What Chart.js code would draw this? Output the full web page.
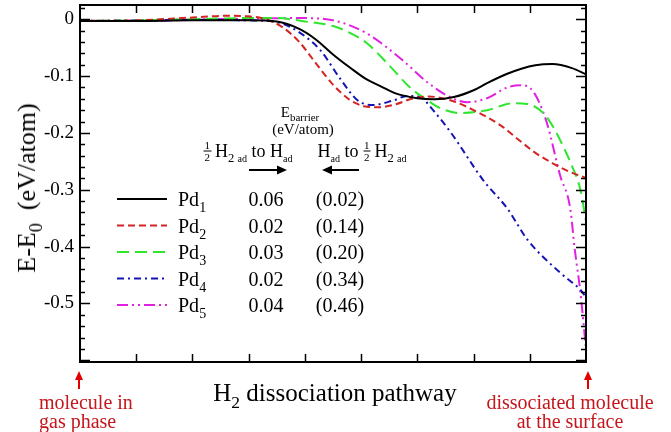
<!DOCTYPE html>
<html><head><meta charset="utf-8">
<script src="https://cdn.jsdelivr.net/npm/chart.js@4.4.0/dist/chart.umd.min.js"></script>
<style>
body{margin:0;background:#fff}
#wrap{position:relative;width:671px;height:432px;font-family:"Liberation Serif","Times New Roman",serif;color:#000;overflow:hidden}
canvas{position:absolute;left:0;top:0}
.t{position:absolute;white-space:nowrap;transform:translate(-50%,-50%);line-height:1}
.l{position:absolute;white-space:nowrap;transform:translate(0,-50%);line-height:1}
sub{font-size:0.7em;vertical-align:-0.4em;line-height:0}
sub small{font-size:0.8em}
.frac{display:inline-block;vertical-align:-0.35em;text-align:center;font-size:11px;line-height:11px;margin-right:4px}
.frac span{display:block;padding:0 1px}
.frac .d{border-top:1px solid #000}
.red{color:#c4161c;font-size:20px}
</style>
</head><body>
<div id="wrap">
<canvas id="c" width="671" height="432"></canvas>
<div class="t" style="left:27px;top:188px;font-size:26px;transform:translate(-50%,-50%) rotate(-90deg)">E-E<sub>0</sub>&nbsp; (eV/atom)</div>
<div class="t" style="left:335px;top:392px;font-size:25px">H<sub>2</sub> dissociation pathway</div>
<div class="l red" style="left:39px;top:402px">molecule in</div>
<div class="l red" style="left:39px;top:421px">gas phase</div>
<div class="t red" style="left:570px;top:402px">dissociated molecule</div>
<div class="t red" style="left:570px;top:421px">at the surface</div>
<div class="t" style="left:300px;top:112px;font-size:15px">E<sub style="font-size:11px">barrier</sub></div>
<div class="t" style="left:303px;top:129px;font-size:15px">(eV/atom)</div>
<div class="t" style="left:248px;top:151px;font-size:18px"><span class="frac"><span>1</span><span class="d">2</span></span>H<sub>2 <small>ad</small></sub> to H<sub><small>ad</small></sub></div>
<div class="t" style="left:362px;top:151px;font-size:18px">H<sub><small>ad</small></sub> to <span class="frac"><span>1</span><span class="d">2</span></span>H<sub>2 <small>ad</small></sub></div>
<div id="table"></div>
<svg width="671" height="432" style="position:absolute;left:0;top:0">
  <line x1="249" y1="170" x2="280" y2="170" stroke="#000" stroke-width="2"/>
  <polygon points="287,170 277,165.5 277,174.5" fill="#000"/>
  <line x1="359" y1="170" x2="329" y2="170" stroke="#000" stroke-width="2"/>
  <polygon points="322,170 332,165.5 332,174.5" fill="#000"/>
  <line x1="79" y1="389" x2="79" y2="378" stroke="#e00000" stroke-width="2"/>
  <polygon points="79,371 75,380 83,380" fill="#e00000"/>
  <line x1="588" y1="389" x2="588" y2="378" stroke="#e00000" stroke-width="2"/>
  <polygon points="588,371 584,380 592,380" fill="#e00000"/>
</svg>
</div>
<script>
// ---- data ----
const seriesNames = ['Pd1','Pd2','Pd3','Pd4','Pd5'];
const barrierForward = ['0.06','0.02','0.03','0.02','0.04'];
const barrierReverse = ['(0.02)','(0.14)','(0.20)','(0.34)','(0.46)'];
const yTickValues = [0, -0.1, -0.2, -0.3, -0.4, -0.5];

const pd1X = [0, 1, 2, 3, 3.5, 3.9, 4.2, 4.5, 4.8, 5.1, 5.35, 5.6, 6.0, 6.3, 6.65, 7.0, 7.25, 7.6, 7.85, 8.1, 8.4, 8.75, 9.0];
const pd1Y = [-0.003, -0.003, -0.002, -0.002, -0.004, -0.017, -0.036, -0.062, -0.085, -0.106, -0.118, -0.130, -0.139, -0.141, -0.137, -0.125, -0.112, -0.096, -0.087, -0.081, -0.079, -0.086, -0.097];

const pd2X = [0, 1, 2, 2.6, 3.0, 3.3, 3.6, 3.9, 4.2, 4.5, 4.8, 5.05, 5.3, 5.6, 5.9, 6.2, 6.6, 7.0, 7.5, 7.8, 8.1, 8.4, 8.7, 9.0];
const pd2Y = [-0.003, -0.002, 0.003, 0.006, 0.005, 0.000, -0.014, -0.040, -0.078, -0.115, -0.142, -0.153, -0.155, -0.150, -0.140, -0.136, -0.143, -0.160, -0.188, -0.212, -0.235, -0.253, -0.268, -0.279];

const pd3X = [0, 1, 2, 3, 3.5, 4.0, 4.5, 4.8, 5.1, 5.46, 5.87, 6.17, 6.4, 6.76, 7.24, 7.7, 7.95, 8.24, 8.42, 8.6, 8.75, 8.9, 9.0];
const pd3Y = [-0.003, -0.002, 0.000, 0.002, 0.002, -0.004, -0.012, -0.024, -0.042, -0.077, -0.120, -0.142, -0.156, -0.165, -0.160, -0.148, -0.149, -0.165, -0.190, -0.225, -0.258, -0.300, -0.355];

const pd4X = [0, 1, 2, 3, 3.5, 3.9, 4.27, 4.63, 4.93, 5.2, 5.57, 5.82, 6.05, 6.28, 6.6, 7.17, 7.6, 7.96, 8.54, 8.9, 9.0];
const pd4Y = [-0.003, -0.002, -0.001, -0.002, -0.005, -0.023, -0.054, -0.105, -0.142, -0.151, -0.143, -0.135, -0.137, -0.160, -0.200, -0.283, -0.333, -0.388, -0.446, -0.476, -0.489];

const pd5X = [0, 1, 2, 3, 3.9, 4.5, 5.1, 5.7, 6.18, 6.58, 6.88, 7.24, 7.6, 7.83, 8.06, 8.3, 8.54, 8.72, 8.8, 8.9, 9.0];
const pd5Y = [-0.003, -0.003, -0.001, 0.001, 0.002, -0.002, -0.025, -0.069, -0.111, -0.137, -0.146, -0.139, -0.120, -0.116, -0.127, -0.181, -0.275, -0.333, -0.405, -0.480, -0.580];

// ---- styles ----
const colors = ['#000000', '#d42424', '#2ee62e', '#1414b4', '#e022e0'];
const dashes = [[], [7, 4], [12, 6], [7, 4, 2, 4], [11, 4, 2, 4, 2, 4]];
const legendRowY = [199, 225.5, 252, 278.5, 305];

const xs = [pd1X, pd2X, pd3X, pd4X, pd5X];
const ys = [pd1Y, pd2Y, pd3Y, pd4Y, pd5Y];
const pts = (X, Y) => X.map((x, i) => ({x, y: Y[i]}));

// table text
const tbl = document.getElementById('table');
seriesNames.forEach((n, i) => {
  const yy = legendRowY[i];
  tbl.insertAdjacentHTML('beforeend',
    `<div class="l" style="left:178px;top:${yy}px;font-size:20px">${n.slice(0,2)}<sub>${n.slice(2)}</sub></div>` +
    `<div class="t" style="left:266px;top:${yy}px;font-size:20px">${barrierForward[i]}</div>` +
    `<div class="t" style="left:340px;top:${yy}px;font-size:20px">${barrierReverse[i]}</div>`);
});

const framePlugin = {
  id: 'frame',
  afterDatasetsDraw(chart) {
    const {ctx, chartArea: a, scales: {x, y}} = chart;
    ctx.save();
    ctx.setLineDash([]);
    ctx.strokeStyle = '#000';
    const ln = (x1, y1, x2, y2) => { ctx.beginPath(); ctx.moveTo(x1, y1); ctx.lineTo(x2, y2); ctx.stroke(); };
    ctx.lineWidth = 1.5;
    for (let k = -60; k <= 2; k += 2) {
      const py = Math.round(y.getPixelForValue(k / 100)) + 0.5;
      const len = (k % 10 === 0) ? 10 : 5;
      ln(a.left, py, a.left + len, py);
      ln(a.right, py, a.right - len, py);
    }
    for (let i = 1; i < 9; i++) {
      const px = Math.round(x.getPixelForValue(i)) + 0.5;
      ln(px, a.top, px, a.top + 8);
      ln(px, a.bottom, px, a.bottom - 8);
    }
    ctx.lineWidth = 2;
    ctx.strokeRect(a.left, a.top, a.right - a.left, a.bottom - a.top);
    // legend samples
    chart.data.datasets.forEach((ds, i) => {
      ctx.strokeStyle = ds.borderColor;
      ctx.lineWidth = 2;
      ctx.setLineDash(ds.borderDash || []);
      ln(117, legendRowY[i], 167, legendRowY[i]);
    });
    ctx.restore();
  }
};

new Chart(document.getElementById('c'), {
  type: 'line',
  data: {
    datasets: seriesNames.map((n, i) => ({
      label: n,
      data: pts(xs[i], ys[i]),
      borderColor: colors[i],
      borderDash: dashes[i],
      borderWidth: 2,
      pointRadius: 0,
      cubicInterpolationMode: 'monotone',
      fill: false
    }))
  },
  options: {
    responsive: false,
    animation: false,
    devicePixelRatio: 1,
    layout: {padding: {left: 0, top: 5, right: 85, bottom: 70}},
    plugins: {legend: {display: false}, tooltip: {enabled: false}},
    scales: {
      x: {type: 'linear', min: 0, max: 9, display: false},
      y: {
        type: 'linear', min: -0.603, max: 0.025,
        grid: {display: false, drawTicks: false},
        border: {display: false},
        afterBuildTicks: s => { s.ticks = yTickValues.map(v => ({value: v})); },
        afterFit: s => { s.width = 80; s.paddingTop = 0; s.paddingBottom = 0; },
        ticks: {
          padding: 6, color: '#000',
          font: {family: '"Liberation Serif", serif', size: 19},
          callback: v => (v === 0 ? '0' : String(v))
        }
      }
    }
  },
  plugins: [framePlugin]
});
</script>
</body></html>
